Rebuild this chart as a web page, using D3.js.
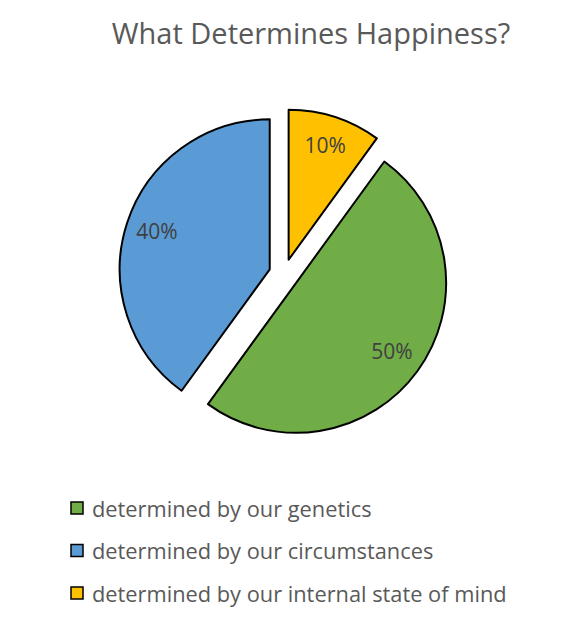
<!DOCTYPE html>
<html>
<head>
<meta charset="utf-8">
<script src="https://cdn.jsdelivr.net/npm/d3@7"></script>
<style>
  body { margin: 0; background: #fff; }
  text { font-family: "Open Sans", "Noto Sans", sans-serif; }
</style>
</head>
<body>
<svg id="chart"></svg>
<script>
// data
const categories = ['determined by our genetics', 'determined by our circumstances', 'determined by our internal state of mind'];
const values = [50, 40, 10];
const sliceColors = ['#70AD47', '#5B9BD5', '#FFC000'];
const chartTitle = 'What Determines Happiness?';

// layout
const width = 568;
const height = 626;
const center = {x: 284, y: 274};
const radius = 150;
const explode = 15;
const firstSliceAngle = 36; // degrees

const svg = d3.select('#chart')
    .attr('width', width)
    .attr('height', height);

svg.append('text')
    .attr('x', 311)
    .attr('y', 44)
    .attr('text-anchor', 'middle')
    .attr('font-size', 29)
    .attr('fill', '#595959')
    .text(chartTitle);

const data = categories.map(function(c, i) {
    return {name: c, value: values[i], color: sliceColors[i]};
});

const start = firstSliceAngle * Math.PI / 180;
const pie = d3.pie()
    .sort(null)
    .value(d => d.value)
    .startAngle(start)
    .endAngle(start + 2 * Math.PI);

const arc = d3.arc().innerRadius(0).outerRadius(radius);
const labelArc = d3.arc().innerRadius(radius * 0.79).outerRadius(radius * 0.79);

const g = svg.append('g')
    .attr('transform', 'translate(' + center.x + ',' + center.y + ')');

const slices = g.selectAll('g.slice')
    .data(pie(data))
    .enter()
    .append('g')
    .attr('class', 'slice')
    .attr('transform', function(d) {
        const mid = (d.startAngle + d.endAngle) / 2;
        return 'translate(' + (explode * Math.sin(mid)) + ',' + (-explode * Math.cos(mid)) + ')';
    });

slices.append('path')
    .attr('d', arc)
    .attr('fill', d => d.data.color)
    .attr('stroke', '#000')
    .attr('stroke-width', 2)
    .attr('stroke-linejoin', 'round');

slices.append('text')
    .attr('transform', d => 'translate(' + labelArc.centroid(d) + ')')
    .attr('text-anchor', 'middle')
    .attr('dy', '0.3em')
    .attr('font-size', 21)
    .attr('fill', '#404040')
    .text(d => d.data.value + '%');

// legend
const legend = svg.append('g')
    .attr('transform', 'translate(71,508)');

const rows = legend.selectAll('g')
    .data(data)
    .enter()
    .append('g')
    .attr('transform', (d, i) => 'translate(0,' + (i * 42.5) + ')');

rows.append('rect')
    .attr('x', 0)
    .attr('y', -6)
    .attr('width', 12)
    .attr('height', 12)
    .attr('fill', d => d.color)
    .attr('stroke', '#000')
    .attr('stroke-width', 1.5);

rows.append('text')
    .attr('x', 21)
    .attr('y', 0)
    .attr('dominant-baseline', 'central')
    .attr('font-size', 21.8)
    .attr('fill', '#595959')
    .text(d => d.name);
</script>
</body>
</html>
